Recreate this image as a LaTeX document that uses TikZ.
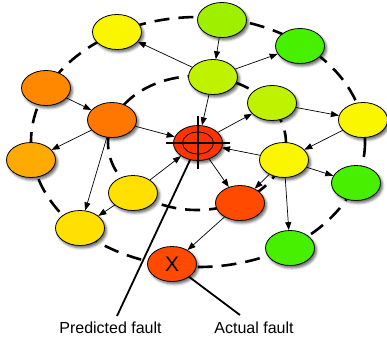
\documentclass[tikz,border=0pt]{standalone}
\usepackage{fontspec}
\setmainfont{Liberation Sans}
\usetikzlibrary{arrows.meta,shapes.geometric,shadows.blur,backgrounds}

% fill colours of the fault-probability nodes
\definecolor{cYellow}{HTML}{FAF600}
\definecolor{cLime}{HTML}{9EF000}
\definecolor{cYGreen}{HTML}{BEF200}
\definecolor{cGreen}{HTML}{46F000}
\definecolor{cOrange}{HTML}{FF8800}
\definecolor{cDOrange}{HTML}{FF7700}
\definecolor{cAmber}{HTML}{FFAA00}
\definecolor{cGold}{HTML}{FFE000}
\definecolor{cRedOr}{HTML}{FF4A00}
\definecolor{cRed}{HTML}{FF3300}

\begin{document}
\begin{tikzpicture}[x=1pt,y=-1pt,
  fnode/.style={ellipse, draw=black, line width=0.8pt,
    minimum width=49pt, minimum height=35pt, inner sep=0pt,
    blur shadow={shadow xshift=2pt, shadow yshift=-2.5pt,
      shadow blur radius=2.5pt, shadow opacity=60}},
  link/.style={-{Triangle[length=8pt,width=6pt]}, line width=0.7pt},
  ring/.style={line width=2.6pt, dash pattern=on 15pt off 9pt},
  callout/.style={line width=1.8pt},
  lbl/.style={font=\fontsize{16}{19}\selectfont, inner sep=0pt}]

\useasboundingbox (0,0) rectangle (387,341);

% nodes
\node[fnode, fill=cYellow]  (A) at (117,32)  {};
\node[fnode, fill=cLime]    (B) at (222,20)  {};
\node[fnode, fill=cGreen]   (C) at (300,46)  {};
\node[fnode, fill=cOrange]  (D) at (46,88)   {};
\node[fnode, fill=cDOrange] (E) at (112,120) {};
\node[fnode, fill=cYGreen]  (F) at (213,77)  {};
\node[fnode, fill=cYGreen]  (G) at (272,103) {};
\node[fnode, fill=cYellow]  (H) at (363,120) {};
\node[fnode, fill=cRed]     (T) at (198,143) {};
\node[fnode, fill=cYellow]  (I) at (284,160) {};
\node[fnode, fill=cAmber]   (J) at (31,160)  {};
\node[fnode, fill=cGold]    (K) at (133,193) {};
\node[fnode, fill=cGold]    (L) at (80,228)  {};
\node[fnode, fill=cRedOr]   (M) at (240,203) {};
\node[fnode, fill=cGreen]   (N) at (356,183) {};
\node[fnode, fill=cGreen]   (O) at (290,248) {};
\node[fnode, fill=cRedOr, font=\fontsize{21}{21}\selectfont] (X) at (172,264) {X};

% target mark on the predicted fault
\draw[line width=0.8pt] (T.center) ellipse [x radius=15.5, y radius=11];
\draw[line width=2pt] ([xshift=-32pt]T.center) -- ([xshift=32pt]T.center);
\draw[line width=2pt] ([yshift=27pt]T.center) -- ([yshift=-26pt]T.center);

% labels
\node[lbl, anchor=base] (plabel) at (110.5,333) {Predicted fault};
\node[lbl, anchor=base] (alabel) at (254,333) {Actual fault};
\coordinate (pf) at (117,316);
\coordinate (af) at (240,315);

% propagation links
\draw[link] (F) -- (A);
\draw[link] (B) -- (F);
\draw[link] (F) -- (C);
\draw[link] (F) -- (T);
\draw[link] (T) -- (G);
\draw[link] (G) -- (H);
\draw[link] (H) -- (I);
\draw[link] (I) -- (T);
\draw[link] (I) -- (N);
\draw[link] (I) -- (M);
\draw[link] (I) -- (O);
\draw[link] (T) -- (M);
\draw[link] (M) -- (X);
\draw[link] (K) -- (T);
\draw[link] (E) -- (T);
\draw[link] (D) -- (E);
\draw[link] (E) -- (J);
\draw[link] (E) -- (L);
\draw[link] (K) -- (L);

\begin{pgfonlayer}{background}
  % distance rings around the predicted fault
  \draw[ring] (198,142) ellipse [x radius=167, y radius=125];
  \draw[ring] (197,143) ellipse [x radius=89, y radius=67];
  % callout lines
  \draw[callout] (T.center) -- (pf);
  \draw[callout] (X.center) -- (af);
\end{pgfonlayer}
\end{tikzpicture}
\end{document}
